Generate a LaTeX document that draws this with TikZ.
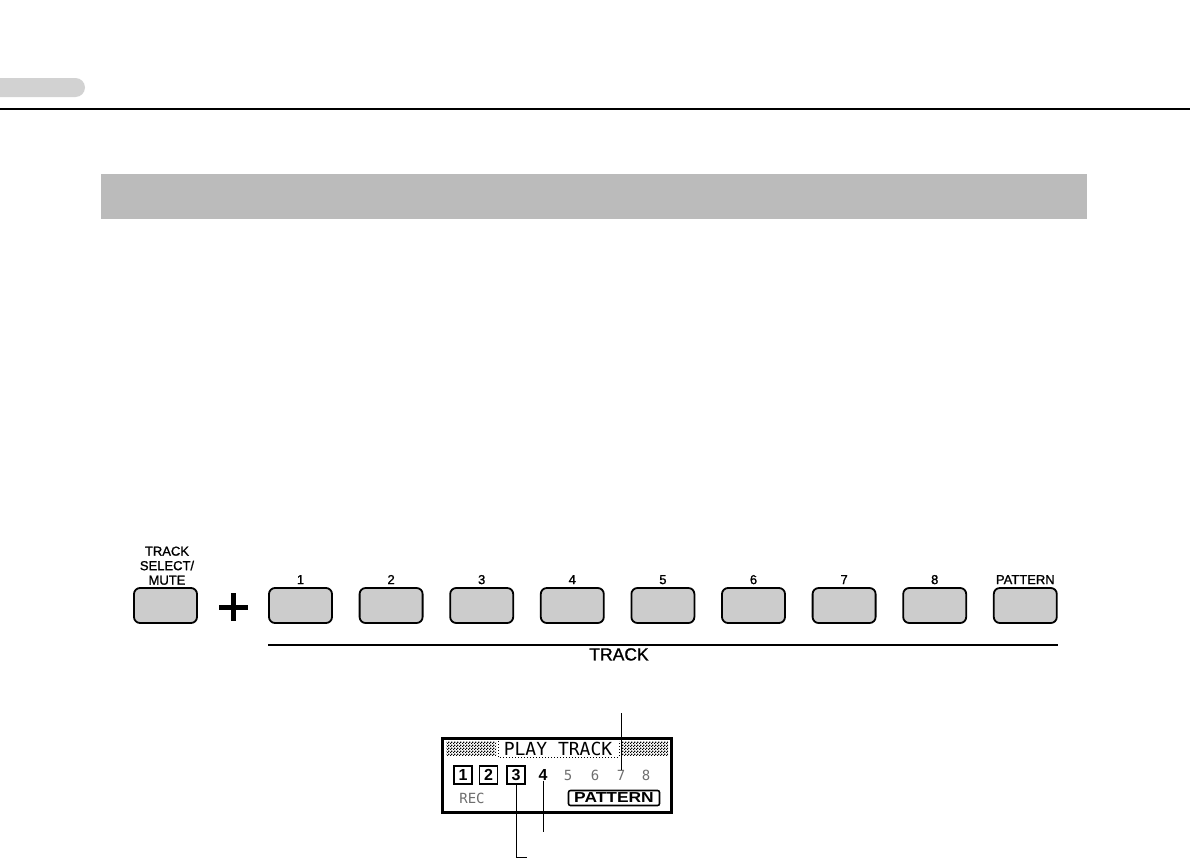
\documentclass[tikz,border=0pt]{standalone}
\usepackage{fontspec}
\setmainfont{Liberation Sans}
\newfontfamily\keyfont[RawFeature={embolden=1.2}]{Liberation Sans}
\newfontfamily\lcdfont{DejaVu Sans Mono}
\usepackage{tikz}
\usetikzlibrary{positioning,patterns,calc}
\definecolor{TabGray}{RGB}{210,210,210}
\definecolor{BandGray}{RGB}{187,187,187}
\definecolor{KeyGray}{RGB}{204,204,204}
\definecolor{DotGray}{RGB}{110,110,110}
\pgfdeclarepatternformonly{finechecker}{\pgfpointorigin}{\pgfqpoint{2.6pt}{2.6pt}}{\pgfqpoint{2.6pt}{2.6pt}}{%
  \pgfpathrectangle{\pgfpointorigin}{\pgfqpoint{1.3pt}{1.3pt}}%
  \pgfpathrectangle{\pgfqpoint{1.3pt}{1.3pt}}{\pgfqpoint{1.3pt}{1.3pt}}%
  \pgfusepath{fill}}

\begin{document}
\begin{tikzpicture}[x=1pt,y=-1pt,
    key/.style={draw,line width=1.8pt,rounded corners=6pt,fill=KeyGray,
      minimum width=63pt,minimum height=35pt,inner sep=0pt},
    keylabel/.style={font=\keyfont\fontsize{13}{14.5}\selectfont,inner sep=0pt,anchor=base},
    digitbox/.style={draw,line width=1.6pt,minimum size=18pt,inner sep=0pt,
      font=\fontsize{16}{16}\selectfont\bfseries},
    dimdigit/.style={DotGray,inner sep=0pt,font=\lcdfont\fontsize{14}{14}\selectfont},
    callout/.style={line width=0.8pt}]
  \useasboundingbox (0,0) rectangle (1190,867);
  \fill[TabGray,rounded corners=9.5pt] (-20,78) rectangle (85,97);
  \draw[line width=1.2pt] (0,109) -- (1190,109);
  \fill[BandGray] (101,174) rectangle (1087,219);

  \node[key] (sel) at (165.5,605.5) {};
  \node[keylabel,anchor=south,align=center] (sellabel) at (167,585) {TRACK\\SELECT/\\MUTE};
  \draw[line width=5pt] (219,607) -- (248,607) (233.5,593) -- (233.5,621);
  \foreach \lbl [count=\i] in {1,2,3,4,5,6,7,8,PATTERN} {
    \node[key] (k\i) at ({300.5+90.6*(\i-1)},605.5) {};
    \node[keylabel] (l\i) at ([yshift=3pt]k\i.north) {\lbl};
  }
  \draw[line width=1.5pt] ([yshift=-21pt]k1.south west) -- ([yshift=-21pt]k9.south east);
  \node[font=\keyfont\fontsize{17.5}{17.5}\selectfont,anchor=north,inner sep=0pt] (tracklabel) at (619,648) {TRACK};

  \draw[line width=3pt] (442,738) rectangle (671,812);
  \fill[pattern=finechecker] (446,741) rectangle (496,755);
  \fill[pattern=finechecker] (621,741) rectangle (668,755);
  \draw[dotted,line width=1pt] (498,741) -- (498,757) -- (619,757) -- (619,741);
  \node[font=\lcdfont\fontsize{18}{18}\selectfont,inner sep=0pt] (title) at (558,748.5) {PLAY TRACK};
  \node[digitbox] (d1) at (463,775) {1};
  \node[digitbox] (d2) at (488.5,775) {2};
  \node[digitbox] (d3) at (516,775) {3};
  \node[font=\fontsize{16}{16}\selectfont\bfseries,inner sep=0pt] (d4) at (543,775) {4};
  \node[dimdigit] (d5) at (568,775) {5};
  \node[dimdigit] (d6) at (595,775) {6};
  \node[dimdigit] (d7) at (621,775) {7};
  \node[dimdigit] (d8) at (646,775) {8};
  \node[dimdigit] (rec) at (472,798) {REC};
  \node[draw,line width=1.6pt,rounded corners=2pt,minimum width=91pt,minimum height=15pt,
    inner sep=0pt,font=\fontsize{14.5}{14.5}\selectfont\bfseries] (pat) at (614,798) {\scalebox{1.2}[1]{PATTERN}};

  \coordinate (c7) at (621,713);
  \coordinate (c4) at (543,832);
  \coordinate (c3) at (527,857);
  \draw[callout] (c7) -- (d7.north);
  \draw[callout] (d4.south) -- (c4);
  \draw[callout] (d3.south) |- (c3);
\end{tikzpicture}
\end{document}
